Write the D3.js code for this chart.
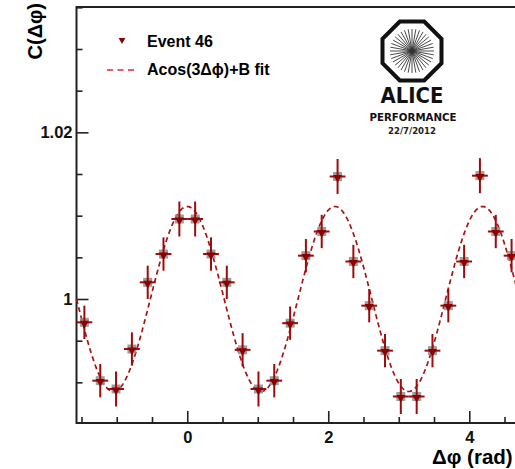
<!DOCTYPE html>
<html>
<head>
<meta charset="utf-8">
<script src="https://cdn.jsdelivr.net/npm/d3@7"></script>
<style>
  body { margin: 0; background: #fff; }
  text { font-family: "Liberation Sans", Arial, sans-serif; }
</style>
</head>
<body>
<div id="chart"></div>
<script>
// bin centres in delta phi (rad), 28 bins over [-pi/2, 3pi/2]
const dphi = [-1.459, -1.234, -1.010, -0.785, -0.561, -0.337, -0.112, 0.112, 0.337, 0.561,
              0.785, 1.010, 1.234, 1.459, 1.683, 1.907, 2.132, 2.356, 2.581, 2.805,
              3.029, 3.254, 3.478, 3.703, 3.927, 4.151, 4.376, 4.600]
const corr = [0.9972, 0.9902, 0.9892, 0.9940, 1.0020, 1.0054, 1.0096, 1.0096, 1.0054, 1.0020,
              0.9939, 0.9892, 0.9902, 0.9971, 1.0052, 1.0081, 1.0147, 1.0045, 0.9992, 0.9938,
              0.9883, 0.9883, 0.9938, 0.9992, 1.0045, 1.0148, 1.0081, 1.0052]
const corrErr = [0.0020, 0.0020, 0.0021, 0.0020, 0.0020, 0.0020, 0.0021, 0.0021, 0.0020, 0.0020,
                 0.0020, 0.0021, 0.0020, 0.0020, 0.0020, 0.0020, 0.0021, 0.0020, 0.0020, 0.0020,
                 0.0021, 0.0021, 0.0020, 0.0020, 0.0020, 0.0021, 0.0020, 0.0020]
const binHalf = 0.1122
// fit: A cos(3 dphi) + B
const fitA = 0.0111
const fitB = 1.0000

const xMajor = [0, 2, 4]
const xMinor = [-1.5, -1, -0.5, 0.5, 1, 1.5, 2.5, 3, 3.5, 4.5]
const yMajor = [1, 1.02]
const yMinor = [0.99, 0.995, 1.005, 1.01, 1.015, 1.025, 1.03, 1.035]

const W = 515, H = 469
const PLOT = { LEFT: 76.5, RIGHT: 519.5, TOP: 7, BOTTOM: 423 }
const RED = "#9e0b0b"

const svg = d3.select("#chart")
  .append("svg")
    .attr("width", W)
    .attr("height", H)

const x = d3.scaleLinear()
  .domain([-Math.PI / 2, 3 * Math.PI / 2])
  .range([PLOT.LEFT, PLOT.RIGHT])

const y = d3.scaleLinear()
  .domain([0.98512, 1.03504])
  .range([PLOT.BOTTOM, PLOT.TOP])

// axes, ROOT style: ticks pointing inward
svg.append("g")
  .attr("transform", `translate(0,${PLOT.BOTTOM})`)
  .call(d3.axisBottom(x).tickValues(xMinor).tickSize(-6).tickFormat(""))
svg.append("g")
  .attr("transform", `translate(0,${PLOT.BOTTOM})`)
  .call(d3.axisBottom(x).tickValues(xMajor).tickSize(-12).tickPadding(8).tickFormat(d3.format("")))
svg.append("g")
  .attr("transform", `translate(${PLOT.LEFT},0)`)
  .call(d3.axisLeft(y).tickValues(yMinor).tickSize(-6).tickFormat(""))
svg.append("g")
  .attr("transform", `translate(${PLOT.LEFT},0)`)
  .call(d3.axisLeft(y).tickValues(yMajor).tickSize(-12).tickPadding(4).tickFormat(d3.format("")))

svg.selectAll(".domain").remove()
svg.selectAll(".tick line").attr("stroke", "#222").attr("stroke-width", 1.6)
svg.selectAll(".tick text")
  .attr("fill", "#111")
  .style("font-size", "16.5px")
  .style("font-weight", "bold")
  .style("font-family", "'Liberation Sans', Arial, sans-serif")

// frame
svg.append("rect")
  .attr("x", PLOT.LEFT)
  .attr("y", PLOT.TOP)
  .attr("width", PLOT.RIGHT - PLOT.LEFT)
  .attr("height", PLOT.BOTTOM - PLOT.TOP)
  .attr("fill", "none")
  .attr("stroke", "#222")
  .attr("stroke-width", 2)

// axis titles
svg.append("text")
  .attr("transform", `translate(42,3) rotate(-90)`)
  .attr("text-anchor", "end")
  .style("font-size", "20px")
  .style("font-weight", "bold")
  .text("C(Δφ)")

svg.append("text")
  .attr("x", 432)
  .attr("y", 464)
  .style("font-size", "20.5px")
  .style("font-weight", "bold")
  .text("Δφ (rad)")

// fit curve
const fitLine = d3.line()
  .x(d => x(d))
  .y(d => y(fitA * Math.cos(3 * d) + fitB))
svg.append("path")
  .datum(d3.range(-Math.PI / 2, 3 * Math.PI / 2 + 0.005, 0.01))
  .attr("d", fitLine)
  .attr("fill", "none")
  .attr("stroke", "#a81414")
  .attr("stroke-width", 1.7)
  .attr("stroke-dasharray", "5,3.5")

// points with error bars
const data = dphi.map((d, i) => ({ dphi: d, c: corr[i], e: corrErr[i] }))
const pts = svg.append("g").selectAll("g")
  .data(data)
  .enter().append("g")

pts.append("rect")
  .attr("x", d => x(d.dphi) - 4.5)
  .attr("y", d => y(d.c) - 4.5)
  .attr("width", 9)
  .attr("height", 9)
  .attr("fill", "#8c8c8c")
  .attr("opacity", 0.85)

pts.append("line")
  .attr("x1", d => x(d.dphi))
  .attr("x2", d => x(d.dphi))
  .attr("y1", d => y(d.c - d.e))
  .attr("y2", d => y(d.c + d.e))
  .attr("stroke", RED)
  .attr("stroke-width", 2)

pts.append("line")
  .attr("x1", d => x(d.dphi - binHalf))
  .attr("x2", d => x(d.dphi + binHalf))
  .attr("y1", d => y(d.c))
  .attr("y2", d => y(d.c))
  .attr("stroke", RED)
  .attr("stroke-width", 2)

pts.append("path")
  .attr("d", d3.symbol(d3.symbolTriangle, 34))
  .attr("transform", d => `translate(${x(d.dphi)},${y(d.c) + 1}) rotate(180)`)
  .attr("fill", "#8b0000")

// legend
svg.append("path")
  .attr("d", d3.symbol(d3.symbolTriangle, 20))
  .attr("transform", "translate(122,40) rotate(180)")
  .attr("fill", "#8b0000")
svg.append("text")
  .attr("x", 147)
  .attr("y", 46.5)
  .style("font-size", "16px")
  .style("font-weight", "bold")
  .text("Event 46")

svg.append("line")
  .attr("x1", 107)
  .attr("x2", 135)
  .attr("y1", 70)
  .attr("y2", 70)
  .attr("stroke", "#e02a2a")
  .attr("stroke-width", 1.6)
  .attr("stroke-dasharray", "6,4.5")
svg.append("text")
  .attr("x", 147)
  .attr("y", 75)
  .style("font-size", "16px")
  .style("font-weight", "bold")
  .text("Acos(3Δϕ)+B fit")

// ALICE performance logo
const logo = svg.append("g").attr("transform", "translate(412,51)")
const octR = 29.5 / Math.cos(Math.PI / 8)
const oct = d3.range(8).map(k => {
  const a = Math.PI / 8 + k * Math.PI / 4
  return [octR * Math.cos(a), octR * Math.sin(a)]
})
logo.append("path")
  .attr("d", d3.line()(oct) + "Z")
  .attr("fill", "none")
  .attr("stroke", "#111")
  .attr("stroke-width", 4)
logo.selectAll("line.ray")
  .data(d3.range(36))
  .enter().append("line")
    .attr("x1", 0)
    .attr("y1", 0)
    .attr("x2", k => 22 * Math.cos(k * Math.PI / 18))
    .attr("y2", k => 22 * Math.sin(k * Math.PI / 18))
    .attr("stroke", "#333")
    .attr("stroke-width", 0.9)

svg.append("text")
  .attr("x", 412)
  .attr("y", 103)
  .attr("text-anchor", "middle")
  .attr("textLength", 63)
  .attr("lengthAdjust", "spacingAndGlyphs")
  .style("font-family", "'DejaVu Sans', sans-serif")
  .style("font-size", "22px")
  .style("font-weight", "bold")
  .style("fill", "#111")
  .text("ALICE")
svg.append("text")
  .attr("x", 413)
  .attr("y", 120.5)
  .attr("text-anchor", "middle")
  .attr("textLength", 87)
  .attr("lengthAdjust", "spacingAndGlyphs")
  .style("font-family", "'DejaVu Sans', sans-serif")
  .style("font-size", "11px")
  .style("font-weight", "bold")
  .style("fill", "#111")
  .text("PERFORMANCE")
svg.append("text")
  .attr("x", 412)
  .attr("y", 133.5)
  .attr("text-anchor", "middle")
  .attr("textLength", 48)
  .attr("lengthAdjust", "spacingAndGlyphs")
  .style("font-family", "'DejaVu Sans', sans-serif")
  .style("font-size", "9.5px")
  .style("font-weight", "bold")
  .style("fill", "#222")
  .text("22/7/2012")
</script>
</body>
</html>
